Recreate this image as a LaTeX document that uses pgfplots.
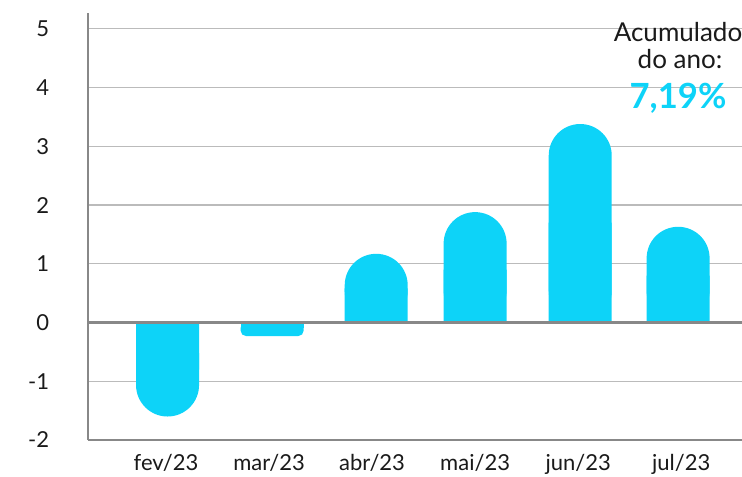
\documentclass[border=0pt]{standalone}
\usepackage{fontspec}
\setmainfont{Lato}
\usepackage{pgfplots}
\pgfplotsset{compat=1.18}
\definecolor{barc}{HTML}{0DD3F8}
\definecolor{axgray}{HTML}{888888}
\definecolor{gridgray}{HTML}{BBBBBB}
\definecolor{txt}{HTML}{1A1A1A}
\begin{document}
\begin{tikzpicture}
\begin{axis}[
 at={(0,0)}, anchor=south west, scale only axis,
 width=490.5pt, height=320.25pt,
 xmin=-0.757, xmax=5.59, ymin=-2, ymax=5.27,
 axis x line*=bottom, axis y line*=left,
 axis line style={axgray, line width=2pt, -},
 xtick={0,...,5}, xticklabels={fev/23,mar/23,abr/23,mai/23,jun/23,jul/23},
 ytick={-2,...,5},
 major tick length=0pt,
 ymajorgrids, grid style={gridgray, line width=0.9pt},
 tick label style={font=\fontsize{16.5}{19}\selectfont, text=txt},
 /pgf/number format/assume math mode=true,
 yticklabel style={anchor=east, inner sep=0pt, xshift=-29pt},
 xticklabel style={anchor=base, inner sep=0pt, yshift=-22.5pt},
]
\addplot[ybar, bar width=47.25pt, bar shift=0pt, fill=barc, draw=none, rounded corners=23.6pt]
  coordinates {(0.015,-1.60) (2.04,1.17) (3.0,1.88) (4.02,3.38) (4.97,1.63)};
\addplot[ybar, bar width=47.25pt, bar shift=0pt, fill=barc, draw=none]
  coordinates {(0.015,-0.8) (2.04,0.58) (3.0,0.9) (4.02,1.7) (4.97,0.8)};
\addplot[ybar, bar width=47.25pt, bar shift=0pt, fill=barc, draw=none, rounded corners=4pt]
  coordinates {(1.03,-0.23)};
\addplot[ybar, bar width=47.25pt, bar shift=0pt, fill=barc, draw=none]
  coordinates {(1.03,-0.1)};
\draw[axgray, line width=2pt] (axis cs:-0.757,0) -- (axis cs:5.59,0);
\end{axis}
\node[anchor=base, font=\fontsize{19.5}{22}\selectfont, text=txt] at (442.5pt,298.5pt) {Acumulado};
\node[anchor=base, font=\fontsize{19.5}{22}\selectfont, text=txt] at (444pt,279pt) {do ano:};
\node[anchor=base, font=\fontsize{26}{28}\selectfont\bfseries, text=barc] at (442.5pt,249pt) {7,19\%};
\pgfresetboundingbox
\path[use as bounding box] (-66pt,-27pt) rectangle (490.5pt,330pt);
\end{tikzpicture}
\end{document}
